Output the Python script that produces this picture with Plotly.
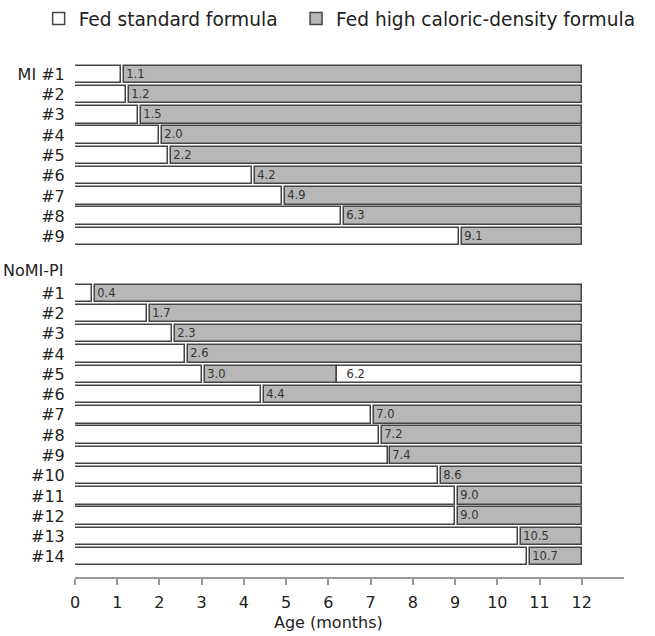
import plotly.graph_objects as go

# ---- data ----
mi_labels = ["MI #1", "#2", "#3", "#4", "#5", "#6", "#7", "#8", "#9"]
mi_switch = [1.1, 1.2, 1.5, 2.0, 2.2, 4.2, 4.9, 6.3, 9.1]

nomi_labels = ["#1", "#2", "#3", "#4", "#5", "#6", "#7", "#8", "#9",
               "#10", "#11", "#12", "#13", "#14"]
nomi_switch = [0.4, 1.7, 2.3, 2.6, 3.0, 4.4, 7.0, 7.2, 7.4, 8.6, 9.0, 9.0, 10.5, 10.7]
# NoMI-PI #5 went back to standard formula at this age
nomi_back_label = "#5"
nomi_back_age = 6.2

end_age = 12
x_ticks = list(range(0, 13))
group_titles = ["MI", "NoMI-PI"]

# ---- layout helpers (positions) ----
nomi_offset = 10.8
gap = 0.07
FONT = "DejaVu Sans"
TXT = "#222"
EDGE = "#454545"
GRAY = "#b7b7b7"

ypos_mi = list(range(len(mi_labels)))
ypos_nomi = [nomi_offset + i for i in range(len(nomi_labels))]
ypos = ypos_mi + ypos_nomi
labels = mi_labels + nomi_labels
switch = mi_switch + nomi_switch
back_idx = len(mi_labels) + nomi_labels.index(nomi_back_label)

gray_end = [end_age] * len(switch)
gray_end[back_idx] = nomi_back_age

fig = go.Figure()
fig.add_trace(go.Bar(
    orientation="h", y=ypos, x=switch, base=[0] * len(switch),
    width=0.86, name="Fed standard formula",
    marker=dict(color="white", line=dict(color=EDGE, width=1.5)),
    legend="legend", hoverinfo="skip",
))
fig.add_trace(go.Bar(
    orientation="h", y=ypos,
    x=[e - (s + gap) for s, e in zip(switch, gray_end)],
    base=[s + gap for s in switch],
    width=0.86, name="Fed high caloric-density formula",
    marker=dict(color=GRAY, line=dict(color=EDGE, width=1.5)),
    text=[f"{s:.1f}" for s in switch], textposition="inside",
    insidetextanchor="start", textangle=0, constraintext="none",
    textfont=dict(family=FONT, size=11.5, color="#333"),
    legend="legend2", hoverinfo="skip",
))
fig.add_trace(go.Bar(
    orientation="h", y=[ypos[back_idx]], x=[end_age - nomi_back_age],
    base=[nomi_back_age], width=0.86, showlegend=False,
    marker=dict(color="white", line=dict(color=EDGE, width=1.5)),
    text=[f"  {nomi_back_age:.1f}"], textposition="inside",
    insidetextanchor="start", textangle=0, constraintext="none",
    textfont=dict(family=FONT, size=11.5, color="#333"),
    hoverinfo="skip",
))

fig.add_annotation(text=group_titles[1], xref="paper", yref="y", x=-0.134, y=nomi_offset - 1.1,
                   xanchor="left", yanchor="middle", showarrow=False,
                   font=dict(family=FONT, size=16, color=TXT))
fig.add_annotation(text="Age (months)", xref="x", yref="paper", x=end_age / 2, y=-0.064,
                   xanchor="center", yanchor="top", showarrow=False,
                   font=dict(family=FONT, size=16, color=TXT))

fig.update_layout(
    width=655, height=636,
    margin=dict(l=75, r=31, t=48, b=59),
    paper_bgcolor="white", plot_bgcolor="white",
    barmode="overlay", bargap=0,
    font=dict(family=FONT, size=16, color=TXT),
    xaxis=dict(range=[0, 13], tickvals=x_ticks, ticktext=[str(t) for t in x_ticks],
               showgrid=False, zeroline=False, showline=True, linecolor="#999",
               linewidth=1.5, ticks="outside", ticklen=6, tickcolor="#999",
               tickwidth=1.5, ticklabelstandoff=4,
               tickfont=dict(family=FONT, size=16, color=TXT)),
    yaxis=dict(range=[24.8, -1.2], tickvals=ypos, ticktext=labels,
               showgrid=False, zeroline=False, showline=False,
               ticks="outside", ticklen=6, tickcolor="rgba(0,0,0,0)",
               tickfont=dict(family=FONT, size=16, color=TXT)),
    legend=dict(orientation="h", xref="container", yref="container",
                x=0.059, y=1.0, xanchor="left", yanchor="top",
                font=dict(family=FONT, size=18.6, color=TXT), bgcolor="rgba(0,0,0,0)"),
    legend2=dict(orientation="h", xref="container", yref="container",
                 x=0.452, y=1.0, xanchor="left", yanchor="top",
                 font=dict(family=FONT, size=18.6, color=TXT), bgcolor="rgba(0,0,0,0)"),
)

fig.write_html("out.html")
